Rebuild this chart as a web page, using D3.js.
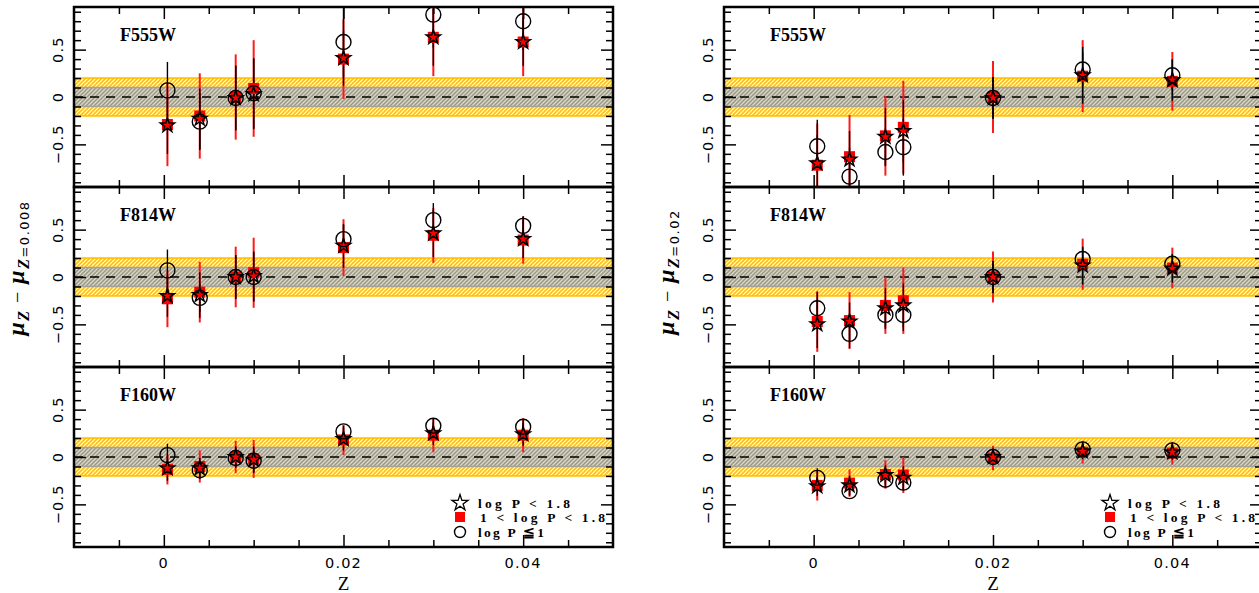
<!DOCTYPE html>
<html>
<head>
<meta charset="utf-8">
<script src="https://cdn.jsdelivr.net/npm/d3@7"></script>
<style>
  body { margin: 0; background: #fff; }
  svg { display: block; }
</style>
</head>
<body>
<svg id="chart"></svg>
<script>
var width = 1259;
var height = 593;

// metallicities of the models
var zVals = [0.0004, 0.004, 0.008, 0.01, 0.02, 0.03, 0.04];
var filters = ["F555W", "F814W", "F160W"];
var xMajor = [0, 0.02, 0.04];
var xLabels = ["0", "0.02", "0.04"];
var yMajor = [-0.5, 0, 0.5];
var yLabels = ["\u22120.5", "0", "0.5"];

// left column: relative to Z=0.008 (rows F555W, F814W, F160W)
var leftStar = [
  [-0.30, -0.23, -0.01, 0.03, 0.41, 0.63, 0.58],
  [-0.20, -0.19, 0.00, 0.01, 0.33, 0.46, 0.40],
  [-0.12, -0.12, 0.00, -0.03, 0.19, 0.25, 0.24]
];
var leftStarErr = [
  [0.30, 0.32, 0.34, 0.37, 0.29, 0.30, 0.25],
  [0.22, 0.24, 0.23, 0.26, 0.23, 0.25, 0.20],
  [0.13, 0.11, 0.11, 0.14, 0.12, 0.12, 0.12]
];
var leftSquare = [
  [-0.29, -0.20, 0.00, 0.09, 0.40, 0.63, 0.58],
  [-0.23, -0.16, 0.00, 0.045, 0.31, 0.44, 0.39],
  [-0.13, -0.10, 0.00, -0.02, 0.18, 0.23, 0.23]
];
var leftSquareErr = [
  [0.44, 0.45, 0.45, 0.51, 0.42, 0.41, 0.36],
  [0.30, 0.32, 0.32, 0.37, 0.30, 0.29, 0.25],
  [0.16, 0.17, 0.17, 0.20, 0.16, 0.18, 0.18]
];
var leftCircle = [
  [0.07, -0.26, -0.01, 0.04, 0.58, 0.87, 0.80],
  [0.07, -0.22, 0.00, 0.00, 0.40, 0.60, 0.54],
  [0.02, -0.14, -0.01, -0.04, 0.27, 0.33, 0.32]
];
var leftCircleErr = [
  [0.30, 0.30, 0.34, 0.37, 0.37, 0.35, 0.30],
  [0.22, 0.15, 0.23, 0.26, 0.15, 0.18, 0.10],
  [0.12, 0.09, 0.10, 0.12, 0.06, 0.08, 0.08]
];

// right column: relative to Z=0.02
var rightStar = [
  [-0.70, -0.66, -0.42, -0.36, -0.01, 0.23, 0.18],
  [-0.50, -0.47, -0.33, -0.30, 0.00, 0.12, 0.09],
  [-0.31, -0.30, -0.19, -0.22, 0.00, 0.06, 0.05]
];
var rightStarErr = [
  [0.30, 0.30, 0.30, 0.33, 0.22, 0.30, 0.22],
  [0.25, 0.20, 0.21, 0.23, 0.17, 0.20, 0.15],
  [0.10, 0.10, 0.10, 0.12, 0.08, 0.08, 0.08]
];
var rightSquare = [
  [-0.72, -0.63, -0.41, -0.32, 0.00, 0.22, 0.165],
  [-0.47, -0.46, -0.30, -0.25, 0.00, 0.135, 0.095],
  [-0.30, -0.275, -0.185, -0.19, -0.01, 0.05, 0.04]
];
var rightSquareErr = [
  [0.44, 0.44, 0.42, 0.49, 0.38, 0.38, 0.31],
  [0.32, 0.30, 0.30, 0.35, 0.27, 0.27, 0.215],
  [0.16, 0.145, 0.15, 0.19, 0.13, 0.12, 0.12]
];
var rightCircle = [
  [-0.52, -0.84, -0.58, -0.53, -0.01, 0.29, 0.23],
  [-0.33, -0.60, -0.40, -0.40, 0.00, 0.19, 0.14],
  [-0.22, -0.36, -0.24, -0.27, 0.00, 0.08, 0.07]
];
var rightCircleErr = [
  [0.28, 0.30, 0.15, 0.30, 0.22, 0.18, 0.16],
  [0.17, 0.15, 0.15, 0.17, 0.17, 0.12, 0.10],
  [0.10, 0.05, 0.08, 0.08, 0.08, 0.08, 0.08]
];

var legendLabels = ["log P < 1.8", "1 < log P < 1.8", "log P \u22661"];
var legendWidths = [92, 125, 66];

var columns = [
  { x0: 74, x1: 613, ref: "0.008", labelX: 24, labelY: 268,
    star: leftStar, starErr: leftStarErr, square: leftSquare,
    squareErr: leftSquareErr, circle: leftCircle, circleErr: leftCircleErr },
  { x0: 724, x1: 1262, ref: "0.02", labelX: 674, labelY: 272,
    star: rightStar, starErr: rightStarErr, square: rightSquare,
    squareErr: rightSquareErr, circle: rightCircle, circleErr: rightCircleErr }
];
var rowTops = [7, 187, 367];
var rowHeight = 180;

var svg = d3.select("#chart").attr("width", width).attr("height", height);
var defs = svg.append("defs");

function hatch(id, bg, color, sw) {
  var p = defs.append("pattern")
    .attr("id", id)
    .attr("patternUnits", "userSpaceOnUse")
    .attr("width", 4)
    .attr("height", 4);
  p.append("rect").attr("width", 4).attr("height", 4).attr("fill", bg);
  p.append("path")
    .attr("d", "M-1,1 L1,-1 M0,4 L4,0 M3,5 L5,3")
    .attr("stroke", color)
    .attr("stroke-width", sw);
}
hatch("hatchYellow", "#ffffff", "#ffc000", 1.6);
hatch("hatchGray", "#dcd8c4", "#9a978a", 1.5);

var serif = "'Liberation Serif', 'DejaVu Serif', serif";
var sans = "'DejaVu Sans', 'Liberation Sans', sans-serif";

columns.forEach(function (col, ci) {
  var x = d3.scaleLinear().domain([-0.01, 0.05]).range([col.x0, col.x1]);

  rowTops.forEach(function (top, ri) {
    var y = d3.scaleLinear().domain([-0.95, 0.95]).range([top + rowHeight, top]);
    var clipId = "clip" + ci + ri;
    defs.append("clipPath").attr("id", clipId)
      .append("rect")
      .attr("x", col.x0).attr("y", top)
      .attr("width", col.x1 - col.x0).attr("height", rowHeight);

    var g = svg.append("g");
    var plot = g.append("g").attr("clip-path", "url(#" + clipId + ")");

    // shaded bands
    plot.append("rect")
      .attr("x", col.x0 - 2).attr("width", col.x1 - col.x0 + 4)
      .attr("y", y(0.2)).attr("height", y(-0.2) - y(0.2))
      .attr("fill", "url(#hatchYellow)")
      .attr("stroke", "#ffc000").attr("stroke-width", 1.6);
    plot.append("rect")
      .attr("x", col.x0 - 2).attr("width", col.x1 - col.x0 + 4)
      .attr("y", y(0.1)).attr("height", y(-0.1) - y(0.1))
      .attr("fill", "url(#hatchGray)")
      .attr("stroke", "#a3a39c").attr("stroke-width", 1.6);
    plot.append("line")
      .attr("x1", col.x0).attr("x2", col.x1)
      .attr("y1", y(0)).attr("y2", y(0))
      .attr("stroke", "#000").attr("stroke-width", 1.3)
      .attr("stroke-dasharray", "9,7");

    var pts = zVals.map(function (z, i) {
      return {
        z: z,
        star: col.star[ri][i], starErr: col.starErr[ri][i],
        square: col.square[ri][i], squareErr: col.squareErr[ri][i],
        circle: col.circle[ri][i], circleErr: col.circleErr[ri][i]
      };
    });

    // error bars: red for the 1<logP<1.8 sample, black for the others
    plot.selectAll(".errRed").data(pts).enter().append("line")
      .attr("x1", function (d) { return x(d.z); })
      .attr("x2", function (d) { return x(d.z); })
      .attr("y1", function (d) { return y(d.square - d.squareErr); })
      .attr("y2", function (d) { return y(d.square + d.squareErr); })
      .attr("stroke", "#ff1a1a").attr("stroke-width", 2);
    ["star", "circle"].forEach(function (k) {
      plot.selectAll(".err" + k).data(pts).enter().append("line")
        .attr("x1", function (d) { return x(d.z); })
        .attr("x2", function (d) { return x(d.z); })
        .attr("y1", function (d) { return y(d[k] - d[k + "Err"]); })
        .attr("y2", function (d) { return y(d[k] + d[k + "Err"]); })
        .attr("stroke", "#000").attr("stroke-width", 1.4);
    });

    plot.selectAll(".sq").data(pts).enter().append("rect")
      .attr("x", function (d) { return x(d.z) - 5.5; })
      .attr("y", function (d) { return y(d.square) - 5.5; })
      .attr("width", 11).attr("height", 11)
      .attr("fill", "#ff0000");
    plot.selectAll(".star").data(pts).enter().append("path")
      .attr("d", d3.symbol().type(d3.symbolStar).size(62))
      .attr("transform", function (d) {
        return "translate(" + x(d.z) + "," + y(d.star) + ")";
      })
      .attr("fill", "none").attr("stroke", "#000").attr("stroke-width", 1.5);
    plot.selectAll(".circ").data(pts).enter().append("circle")
      .attr("cx", function (d) { return x(d.z); })
      .attr("cy", function (d) { return y(d.circle); })
      .attr("r", 7.5)
      .attr("fill", "none").attr("stroke", "#000").attr("stroke-width", 1.4);

    // ticks on all four sides, pointing inward
    var xMinor = d3.range(-0.005, 0.0499, 0.005).filter(function (v) {
      return Math.abs(v / 0.02 - Math.round(v / 0.02)) > 1e-6;
    });
    var yMinor = d3.range(-0.9, 0.91, 0.1).filter(function (v) {
      return Math.abs(v / 0.5 - Math.round(v / 0.5)) > 1e-6;
    });
    function tickAxis(axis, vals, size, tr) {
      var a = g.append("g").attr("transform", tr)
        .call(axis.tickValues(vals).tickSize(size).tickFormat(""));
      a.select(".domain").remove();
      a.selectAll("line").attr("stroke-width", 1.5);
    }
    tickAxis(d3.axisBottom(x), xMajor, -12, "translate(0," + (top + rowHeight) + ")");
    tickAxis(d3.axisBottom(x), xMinor, -7, "translate(0," + (top + rowHeight) + ")");
    tickAxis(d3.axisTop(x), xMajor, -12, "translate(0," + top + ")");
    tickAxis(d3.axisTop(x), xMinor, -7, "translate(0," + top + ")");
    tickAxis(d3.axisLeft(y), yMajor, -12, "translate(" + col.x0 + ",0)");
    tickAxis(d3.axisLeft(y), yMinor, -7, "translate(" + col.x0 + ",0)");
    tickAxis(d3.axisRight(y), yMajor, -12, "translate(" + col.x1 + ",0)");
    tickAxis(d3.axisRight(y), yMinor, -7, "translate(" + col.x1 + ",0)");

    g.append("rect")
      .attr("x", col.x0).attr("y", top)
      .attr("width", col.x1 - col.x0).attr("height", rowHeight)
      .attr("fill", "none").attr("stroke", "#000").attr("stroke-width", 2.5);

    // y tick labels, rotated
    g.selectAll(".ylab").data(yMajor).enter().append("text")
      .attr("transform", function (d) {
        return "translate(" + (col.x0 - 11) + "," + y(d) + ") rotate(-90)";
      })
      .attr("text-anchor", "middle")
      .attr("font-family", sans).attr("font-size", 14.5)
      .attr("letter-spacing", 1.2)
      .text(function (d, i) { return yLabels[i]; });

    g.append("text")
      .attr("x", col.x0 + 46).attr("y", top + 34)
      .attr("font-family", serif).attr("font-weight", "bold")
      .attr("font-size", 18)
      .text(filters[ri]);

    if (ri === 2) {
      g.selectAll(".xlab").data(xMajor).enter().append("text")
        .attr("x", function (d) { return x(d); })
        .attr("y", 568)
        .attr("text-anchor", "middle")
        .attr("font-family", sans).attr("font-size", 14.5)
        .attr("letter-spacing", 1.2)
        .text(function (d, i) { return xLabels[i]; });
      g.append("text")
        .attr("x", x(0.02)).attr("y", 590)
        .attr("text-anchor", "middle")
        .attr("font-family", serif).attr("font-size", 19)
        .text("Z");

      // legend
      var lx = col.x0 + 386;
      var ly = [503, 517, 532];
      g.append("path")
        .attr("d", d3.symbol().type(d3.symbolStar).size(80)())
        .attr("transform", "translate(" + lx + "," + ly[0] + ")")
        .attr("fill", "none").attr("stroke", "#000").attr("stroke-width", 1.3);
      g.append("rect")
        .attr("x", lx - 5).attr("y", ly[1] - 5)
        .attr("width", 10).attr("height", 10).attr("fill", "#ff0000");
      g.append("circle")
        .attr("cx", lx).attr("cy", ly[2]).attr("r", 5.5)
        .attr("fill", "none").attr("stroke", "#000").attr("stroke-width", 1.4);
      legendLabels.forEach(function (t, i) {
        g.append("text")
          .attr("x", lx + (i === 1 ? 20 : 18)).attr("y", ly[i] + 4.5)
          .attr("font-family", serif).attr("font-weight", "bold")
          .attr("font-size", 13.5)
          .attr("textLength", legendWidths[i])
          .attr("lengthAdjust", "spacing")
          .text(t);
      });
    }
  });

  // y axis title
  var yt = svg.append("text")
    .attr("transform", "translate(" + col.labelX + "," + col.labelY + ") rotate(-90)")
    .attr("text-anchor", "middle")
    .attr("font-family", serif).attr("font-weight", "bold")
    .attr("letter-spacing", 1.5);
  yt.append("tspan").attr("font-style", "italic").attr("font-size", 24).text("\u03bc");
  yt.append("tspan").attr("font-style", "italic").attr("font-size", 16).attr("dy", 5).text("Z");
  yt.append("tspan").attr("font-size", 20).attr("dy", -5).attr("font-weight", "normal").text(" \u2212 ");
  yt.append("tspan").attr("font-style", "italic").attr("font-size", 24).text("\u03bc");
  yt.append("tspan").attr("font-style", "italic").attr("font-size", 16).attr("dy", 5).text("Z");
  yt.append("tspan").attr("font-family", sans).attr("font-weight", "normal")
    .attr("font-size", 13).text("=" + col.ref);
});
</script>
</body>
</html>
